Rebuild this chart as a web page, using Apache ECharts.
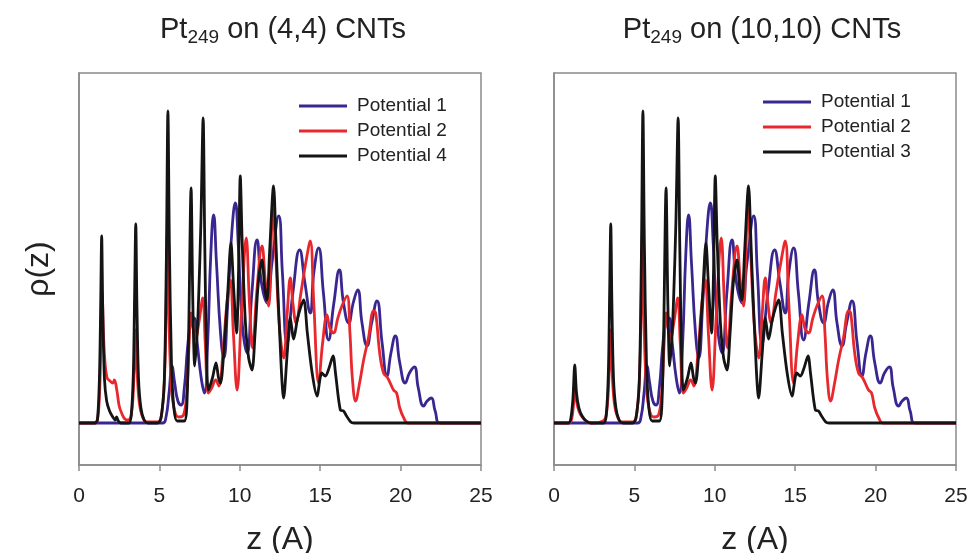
<!DOCTYPE html>
<html><head><meta charset="utf-8">
<script src="https://cdn.jsdelivr.net/npm/echarts@6/dist/echarts.min.js"></script>
<style>html,body{margin:0;padding:0;background:#fff}#c{width:972px;height:553px}</style>
</head><body><div id="c"></div>
<script>
// ---- data: [z (A), rho(z) arbitrary units] ----
const xTicks = [0, 5, 10, 15, 20, 25];
const titleLeft = ['Pt', '249', ' on (4,4) CNTs'];
const titleRight = ['Pt', '249', ' on (10,10) CNTs'];
const legendLeft = ['Potential 1', 'Potential 2', 'Potential 4'];
const legendRight = ['Potential 1', 'Potential 2', 'Potential 3'];

const pot1 = [[0,0],[5.2,0],[5.4,0.05],[5.6,0.3],[5.78,0.57],[5.95,0.4],[6.15,0.22],[6.35,0.18],[6.55,0.35],[6.75,0.75],[6.95,1.0],[7.15,1.05],[7.35,0.8],[7.6,0.45],[7.8,0.3],[8.0,0.8],[8.2,1.7],[8.37,2.08],[8.55,1.6],[8.8,0.9],[9.0,0.65],[9.25,1.2],[9.5,1.9],[9.72,2.2],[9.9,1.8],[10.15,1.0],[10.45,0.7],[10.75,1.3],[11.07,1.83],[11.35,1.4],[11.7,1.2],[12.0,1.6],[12.42,2.07],[12.65,1.5],[12.94,0.8],[13.3,1.3],[13.72,1.73],[14.05,1.4],[14.38,1.1],[14.6,1.5],[14.9,1.75],[15.2,1.3],[15.52,0.83],[15.85,1.2],[16.19,1.53],[16.45,1.2],[16.77,1.0],[17.05,1.2],[17.33,1.33],[17.6,1.0],[17.91,0.77],[18.2,1.0],[18.53,1.22],[18.85,0.8],[19.15,0.47],[19.4,0.7],[19.67,0.87],[19.95,0.6],[20.29,0.4],[20.55,0.5],[20.85,0.56],[21.1,0.35],[21.43,0.17],[21.65,0.22],[21.91,0.25],[22.15,0.12],[22.47,0],[25,0]];

const pot2Head4 = [[0,0],[1.0,0],[1.15,0.03],[1.28,0.3],[1.36,0.8],[1.44,1.3],[1.52,0.9],[1.62,0.6],[1.75,0.45],[1.93,0.42],[2.1,0.4],[2.2,0.43],[2.35,0.33],[2.5,0.17],[2.65,0.1],[2.85,0.04],[3.05,0.03]];
const pot2Head10 = [[0,0],[0.95,0],[1.1,0.04],[1.22,0.2],[1.3,0.37],[1.4,0.22],[1.55,0.12],[1.75,0.06],[2.0,0.02],[2.3,0],[3.05,0.02]];
const pot2Tail = [[3.25,0.08],[3.4,0.4],[3.52,0.93],[3.62,0.5],[3.75,0.2],[3.95,0.06],[4.2,0.01],[4.9,0.01],[5.15,0.1],[5.35,0.6],[5.5,1.9],[5.6,1.0],[5.75,0.35],[5.95,0.12],[6.2,0.06],[6.5,0.08],[6.7,0.3],[6.85,0.8],[6.97,1.1],[7.1,0.95],[7.25,0.85],[7.45,1.0],[7.7,1.25],[7.85,0.8],[8.05,0.3],[8.25,0.35],[8.5,0.43],[8.7,0.37],[8.95,0.7],[9.2,1.2],[9.41,1.43],[9.6,0.9],[9.83,0.33],[10.1,1.1],[10.4,1.85],[10.6,1.2],[10.8,0.75],[11.05,1.3],[11.38,1.77],[11.6,1.4],[11.79,1.17],[11.95,1.8],[12.04,2.15],[12.2,1.8],[12.45,1.0],[12.73,0.65],[12.95,1.1],[13.14,1.45],[13.3,1.2],[13.5,1.0],[13.8,1.3],[14.1,1.6],[14.38,1.82],[14.6,1.2],[14.9,0.4],[15.15,0.8],[15.42,1.08],[15.6,0.95],[15.83,0.9],[16.1,1.05],[16.35,1.17],[16.67,1.27],[16.85,0.9],[17.0,0.45],[17.2,0.22],[17.45,0.4],[17.7,0.63],[18.0,0.85],[18.32,1.12],[18.45,1.1],[18.7,0.7],[18.94,0.5],[19.2,0.45],[19.56,0.33],[19.75,0.3],[19.95,0.15],[20.2,0.05],[20.45,0],[25,0]];

const pot4Head = [[0,0],[1.0,0],[1.15,0.04],[1.27,0.45],[1.35,1.2],[1.41,1.87],[1.48,1.1],[1.58,0.45],[1.72,0.22],[1.9,0.12],[2.1,0.06],[2.25,0.03],[2.34,0.06],[2.45,0.02],[2.6,0],[3.1,0]];
const pot3Head = [[0,0],[0.9,0],[1.05,0.05],[1.18,0.25],[1.29,0.58],[1.4,0.3],[1.55,0.15],[1.75,0.07],[2.0,0.02],[2.3,0],[3.1,0]];
const blackTail = [[3.25,0.08],[3.38,0.5],[3.46,1.3],[3.53,1.99],[3.6,1.2],[3.7,0.45],[3.85,0.15],[4.05,0.03],[4.3,0],[4.9,0],[5.1,0.05],[5.3,0.4],[5.43,1.6],[5.53,3.12],[5.62,1.8],[5.75,0.6],[5.9,0.15],[6.1,0.02],[6.55,0.02],[6.7,0.15],[6.82,0.9],[6.97,2.35],[7.08,1.2],[7.2,0.57],[7.35,0.9],[7.45,1.3],[7.58,2.0],[7.72,3.05],[7.82,1.8],[7.93,0.7],[8.05,0.33],[8.3,0.45],[8.52,0.6],[8.68,0.45],[8.8,0.4],[9.0,0.7],[9.25,1.3],[9.45,1.8],[9.6,1.4],[9.8,0.9],[9.92,1.5],[10.03,2.47],[10.15,1.8],[10.35,1.0],[10.55,0.65],[10.76,0.53],[10.95,0.9],[11.15,1.4],[11.38,1.63],[11.55,1.35],[11.69,1.23],[11.85,1.7],[12.1,2.37],[12.25,1.8],[12.45,1.0],[12.73,0.25],[12.95,0.7],[13.14,1.05],[13.35,0.84],[13.6,1.05],[13.97,1.23],[14.2,0.9],[14.5,0.5],[14.8,0.27],[15.1,0.5],[15.32,0.47],[15.55,0.55],[15.8,0.67],[15.95,0.5],[16.25,0.13],[16.45,0.12],[16.6,0.08],[16.9,0.01],[17.1,0],[25,0]];

const colBlue = '#3a2690', colRed = '#e8282c', colBlack = '#141414';
const FONT = '"Liberation Sans", Arial, sans-serif';

const chart = echarts.init(document.getElementById('c'), null, {renderer: 'canvas'});

function grid(left) { return {left: left, top: 73, width: 402, height: 392, show: true, outerBoundsMode: 'none', containLabel: false, borderColor: '#8a8a8a', borderWidth: 1.5, backgroundColor: 'transparent'}; }
function xAx(i) {
  return {gridIndex: i, type: 'value', min: 0, max: 25, interval: 5,
    name: 'z (A)', nameLocation: 'middle', nameGap: 59,
    nameTextStyle: {fontSize: 32, color: '#222', fontFamily: FONT},
    axisLine: {onZero: false, lineStyle: {color: '#8a8a8a', width: 1.5}},
    axisTick: {show: true, inside: false, length: 6, lineStyle: {color: '#8a8a8a', width: 1.5}},
    axisLabel: {fontSize: 21, color: '#222', margin: 21, fontFamily: FONT,
      formatter: v => xTicks.includes(v) ? String(v) : ''},
    splitLine: {show: false}};
}
function yAx(i, named) {
  return {gridIndex: i, type: 'value', min: -0.42, max: 3.5,
    name: named ? 'ρ(z)' : '', nameLocation: 'middle', nameGap: 24, nameRotate: 90,
    nameTextStyle: {fontSize: 32, color: '#222', fontFamily: FONT},
    axisLine: {show: true, onZero: false, lineStyle: {color: '#8a8a8a', width: 1.5}},
    axisTick: {show: false}, axisLabel: {show: false}, splitLine: {show: false}};
}
function line(name, data, color, i, z, sm) {
  return {name: name, type: 'line', xAxisIndex: i, yAxisIndex: i, data: data,
    showSymbol: false, symbol: 'none', smooth: sm, z: z, silent: true, animation: false,
    lineStyle: {color: color, width: 2.8}, itemStyle: {color: color}};
}
function title(parts, cx) {
  return {text: '{a|' + parts[0] + '}{s|' + parts[1] + '}{a|' + parts[2] + '}',
    left: cx, top: 8, textAlign: 'center',
    textStyle: {fontWeight: 'normal', rich: {
      a: {fontSize: 29, color: '#222', fontFamily: FONT, fontWeight: 'normal'},
      s: {fontSize: 19, color: '#222', fontFamily: FONT, fontWeight: 'normal', padding: [15, 0, 0, 0]}
    }}};
}
function legend(names, left, top) {
  return {data: names, orient: 'vertical', left: left, top: top, itemWidth: 48, itemHeight: 3,
    icon: 'rect', itemGap: 5, selectedMode: false,
    textStyle: {fontSize: 19, color: '#222', fontFamily: FONT, lineHeight: 20, padding: [0, 0, 0, 5]}};
}

chart.setOption({
  animation: false,
  backgroundColor: '#fff',
  title: [title(titleLeft, 278), title(titleRight, 757)],
  legend: [legend(legendLeft, 294, 91), legend(legendRight, 758, 87)],
  grid: [grid(79), grid(554)],
  xAxis: [xAx(0), xAx(1)],
  yAxis: [yAx(0, true), yAx(1, false)],
  series: [
    line('Potential 1', pot1, colBlue, 0, 2, 0.5),
    line('Potential 2', pot2Head4.concat(pot2Tail), colRed, 0, 3, 0.4),
    line('Potential 4', pot4Head.concat(blackTail), colBlack, 0, 4, 0.3),
    line('Potential 1', pot1, colBlue, 1, 2, 0.5),
    line('Potential 2', pot2Head10.concat(pot2Tail), colRed, 1, 3, 0.4),
    line('Potential 3', pot3Head.concat(blackTail), colBlack, 1, 4, 0.3)
  ]
});
</script></body></html>
